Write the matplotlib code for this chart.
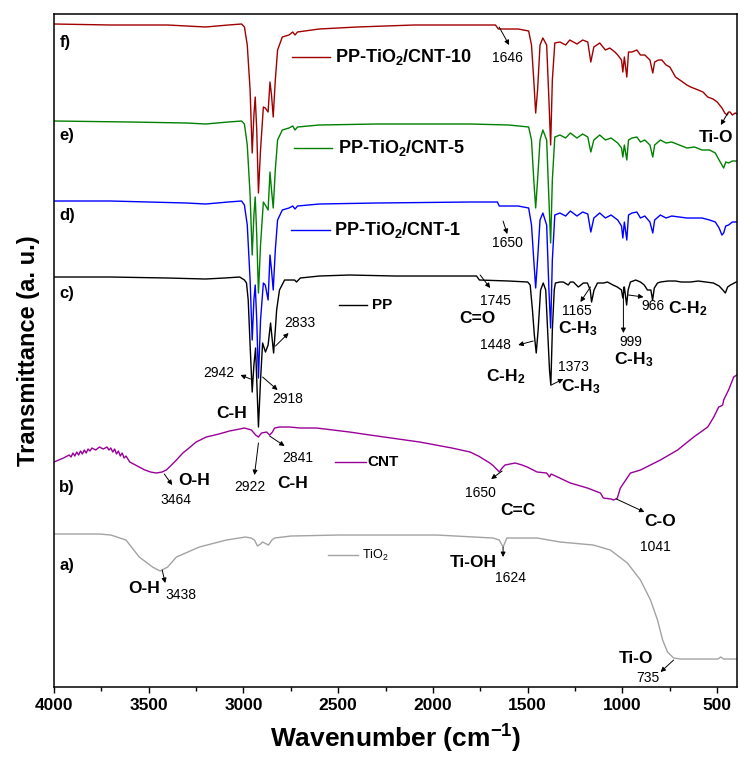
import matplotlib
matplotlib.use('Agg')
import matplotlib.pyplot as plt
from matplotlib.ticker import MultipleLocator

plt.rcParams['font.family'] = ['Liberation Sans', 'DejaVu Sans']
plt.rcParams['mathtext.fontset'] = 'custom'
plt.rcParams['mathtext.rm'] = 'Liberation Sans'
plt.rcParams['mathtext.bf'] = 'Liberation Sans:bold'
plt.rcParams['mathtext.default'] = 'regular'

# ---- spectra (wavenumber cm-1, transmittance a.u. with offsets) ----
wn_f = [4000, 3700, 3400, 3200, 3080, 3010, 2995, 2980, 2965, 2954, 2945, 2938, 2930, 2921, 2910,
        2895, 2885, 2870, 2860, 2852, 2843, 2832, 2820, 2795, 2760, 2740, 2728, 2715, 2600, 2400,
        2100, 1800, 1670, 1655, 1550, 1495, 1480, 1468, 1458, 1448, 1435, 1420, 1400, 1388, 1379,
        1370, 1357, 1330, 1300, 1278, 1240, 1210, 1183, 1167, 1151, 1120, 1090, 1067, 1040, 1025,
        1005, 998, 990, 977, 968, 950, 924, 905, 882, 855, 840, 830, 810, 792, 770, 750, 720, 697,
        660, 640, 600, 575, 550, 522, 500, 475, 460, 448, 440, 432, 420, 405, 395]
t_f = [663, 662, 662, 660, 662, 663, 660, 642, 597, 534, 572, 590, 557, 494, 537,
       580, 579, 575, 605, 592, 570, 607, 637, 650, 652, 655, 652, 655, 658, 660,
       662, 662, 662, 658, 658, 656, 642, 607, 574, 597, 642, 649, 642, 587, 542,
       607, 644, 645, 642, 647, 643, 647, 645, 625, 640, 644, 637, 639, 635, 632,
       627, 615, 630, 610, 635, 635, 637, 632, 632, 627, 614, 625, 627, 627, 622, 620, 610, 607,
       602, 600, 597, 595, 590, 588, 585, 579, 574, 572, 575, 575, 572, 574, 573]

wn_e = [4000, 3600, 3300, 3200, 3080, 3010, 2995, 2980, 2965, 2954, 2945, 2938, 2930, 2921, 2910,
        2895, 2885, 2870, 2860, 2852, 2843, 2832, 2820, 2795, 2760, 2740, 2728, 2715, 2600, 2300,
        1800, 1600, 1495, 1480, 1468, 1458, 1448, 1435, 1420, 1400, 1388, 1379, 1370, 1357, 1330,
        1300, 1275, 1240, 1210, 1183, 1167, 1151, 1120, 1090, 1060, 1025, 1005, 998, 990, 977, 968,
        950, 924, 905, 882, 855, 840, 830, 800, 770, 740, 700, 660, 620, 580, 540, 510, 490, 475,
        466, 455, 440, 420, 395]
t_e = [566, 565, 564, 563, 565, 566, 563, 542, 492, 432, 472, 490, 452, 394, 442,
       485, 482, 477, 515, 497, 479, 517, 547, 557, 559, 561, 557, 560, 562, 563,
       563, 562, 560, 547, 507, 479, 507, 547, 557, 547, 487, 444, 507, 550, 552,
       549, 554, 549, 553, 550, 535, 547, 552, 547, 549, 544, 539, 530, 542, 527, 547,
       549, 550, 545, 547, 542, 530, 542, 547, 544, 545, 542, 539, 540, 537, 537, 534, 527, 522,
       519, 525, 524, 526, 526]

wn_d = [4000, 3700, 3300, 3200, 3080, 3010, 2995, 2980, 2965, 2954, 2945, 2938, 2930, 2921, 2910,
        2895, 2885, 2870, 2860, 2852, 2843, 2832, 2820, 2795, 2760, 2740, 2728, 2715, 2600, 2300,
        1800, 1660, 1650, 1550, 1495, 1480, 1468, 1458, 1448, 1435, 1420, 1400, 1388, 1379, 1370,
        1357, 1330, 1300, 1275, 1240, 1210, 1183, 1167, 1151, 1120, 1090, 1060, 1025, 1005, 998,
        990, 977, 968, 950, 924, 905, 882, 855, 840, 830, 800, 770, 740, 700, 660, 620, 580, 540,
        510, 490, 475, 466, 455, 440, 420, 395]
t_d = [486, 486, 484, 483, 485, 486, 482, 462, 407, 347, 387, 402, 367, 309, 367,
       404, 402, 387, 432, 417, 397, 437, 467, 477, 479, 481, 478, 481, 483, 484,
       485, 485, 481, 481, 479, 462, 427, 399, 427, 467, 474, 462, 397, 359, 427,
       472, 474, 471, 476, 471, 475, 473, 455, 469, 474, 469, 472, 467, 461, 449,
       465, 447, 472, 474, 475, 469, 471, 465, 454, 467, 472, 469, 471, 470, 469, 469, 469, 467,
       465, 459, 452, 454, 461, 462, 465, 465]

wn_c = [4000, 3700, 3400, 3200, 3100, 3020, 2995, 2984, 2975, 2965, 2954, 2945, 2936, 2930, 2921,
        2910, 2899, 2884, 2870, 2857, 2848, 2841, 2832, 2825, 2810, 2783, 2757, 2730, 2720, 2700,
        2600, 2440, 2200, 1900, 1770, 1755, 1600, 1500, 1487, 1475, 1465, 1455, 1445, 1432, 1418,
        1405, 1395, 1385, 1378, 1370, 1360, 1354, 1330, 1312, 1286, 1275, 1259, 1233, 1206, 1185,
        1170, 1163, 1150, 1132, 1100, 1079, 1050, 1027, 1005, 998, 990, 978, 970, 958, 930, 905,
        885, 868, 850, 841, 832, 815, 799, 760, 720, 690, 640, 600, 560, 520, 490, 470, 457, 445,
        430, 400]
t_c = [410, 410, 409, 408, 409, 410, 407, 404, 387, 342, 295, 322, 339, 307, 260,
       307, 344, 335, 342, 364, 347, 334, 357, 377, 397, 407, 407, 407, 405, 409,
       411, 412, 411, 411, 411, 407, 406, 405, 402, 377, 352, 334, 357, 397, 404,
       397, 357, 317, 302, 357, 397, 404, 405, 405, 402, 405, 405, 400, 404, 404,
       397, 385, 397, 404, 404, 405, 402, 400, 397, 389, 400, 382, 397, 405, 407, 405,
       402, 397, 397, 387, 399, 404, 405, 406, 406, 405, 405, 406, 405, 404, 401, 397, 394, 400,
       402, 405]

wn_b = [4000, 3975, 3950, 3920, 3910, 3900, 3890, 3880, 3870, 3860, 3850, 3840, 3830, 3820, 3810,
        3800, 3780, 3760, 3740, 3720, 3710, 3700, 3690, 3680, 3670, 3660, 3650, 3640, 3630, 3620,
        3600, 3580, 3550, 3520, 3490, 3460, 3430, 3407, 3380, 3354, 3320, 3300, 3250, 3196, 3130,
        3074, 3020, 2995, 2958, 2936, 2921, 2905, 2878, 2862, 2847, 2836, 2810, 2757,
        2700, 2614, 2440, 2333, 2070, 1900, 1804, 1760, 1700, 1680, 1660, 1650, 1635, 1620, 1566,
        1530, 1503, 1450, 1400, 1392, 1385, 1376, 1275, 1185, 1116, 1101, 1060, 1048, 1035, 1027,
        1011, 958, 905, 800, 709, 624, 550, 518, 492, 480, 471, 466, 440, 413, 397]
t_b = [225, 227, 229, 232, 230, 234, 231, 235, 232, 236, 233, 237, 234, 238, 236,
       239, 237, 240, 238, 240, 237, 239, 235, 238, 233, 236, 231, 234, 229, 231,
       225, 223, 220, 217, 215, 214, 215, 217, 222, 227, 234, 237, 245, 250, 253,
       256, 258, 259, 257, 252, 250, 254, 255, 252, 255, 259, 260, 260,
       259, 259, 255, 252, 245, 239, 235, 231, 224, 221, 217, 215, 219, 222, 224,
       222, 220, 215, 214, 212, 210, 213, 204, 199, 194, 189, 188, 187, 188, 189,
       199, 214, 217, 227, 237, 250, 260, 270, 280, 281, 282, 287, 297, 310, 312]

wn_a = [4000, 3760, 3700, 3620, 3550, 3480, 3440, 3400, 3354, 3233, 3090, 2990, 2960, 2942, 2926,
        2910, 2899, 2868, 2850, 2836, 2750, 2500, 2280, 1979, 1683, 1650, 1630, 1610, 1450, 1328,
        1154, 1064, 974, 905, 852, 815, 788, 762, 730, 693, 600, 497, 481, 466, 397]
t_a = [153, 153, 152, 147, 130, 120, 116, 120, 130, 140, 147, 150, 149, 147, 141,
       143, 145, 142, 147, 149, 151, 152, 152, 152, 149, 147, 140, 149, 149, 145,
       142, 137, 124, 107, 87, 67, 47, 35, 29, 28, 28, 28, 30, 28, 28]

series = [
    (wn_a, t_a, '#a3a3a3', 'TiO$_2$'),
    (wn_b, t_b, '#990099', 'CNT'),
    (wn_c, t_c, '#000000', 'PP'),
    (wn_d, t_d, '#0000ff', 'PP-TiO$_\\mathbf{2}$/CNT-1'),
    (wn_e, t_e, '#008000', 'PP-TiO$_\\mathbf{2}$/CNT-5'),
    (wn_f, t_f, '#a00000', 'PP-TiO$_\\mathbf{2}$/CNT-10'),
]

# in-plot legend keys: (x0, x1, y, text x, fontsize, weight)
legend_pos = [
    (2556, 2397, 132, 2376, 9, 'normal'),
    (2519, 2354, 225, 2344, 11, 'bold'),
    (2497, 2349, 382, 2323, 11, 'bold'),
    (2751, 2545, 457, 2524, 13, 'bold'),
    (2735, 2534, 539, 2503, 13, 'bold'),
    (2746, 2545, 630, 2519, 13, 'bold'),
]

tags = [('a)', 122), ('b)', 200), ('c)', 394), ('d)', 472), ('e)', 552), ('f)', 645)]

numbers = [('1646', 1608, 629), ('1650', 1608, 444), ('1745', 1672, 386), ('1448', 1672, 342),
           ('1373', 1259, 320), ('1165', 1243, 376), ('999', 958, 345), ('966', 841, 381),
           ('2833', 2704, 364), ('2942', 3132, 314), ('2918', 2767, 288), ('3464', 3354, 187),
           ('2922', 2968, 200), ('2841', 2714, 229), ('1650', 1751, 194), ('1041', 825, 140),
           ('3438', 3328, 92), ('1624', 1593, 109), ('735', 868, 9)]

groups = [('Ti-O', 508, 550), ('C=O', 1767, 369), ('C-H$_\\mathbf{2}$', 1619, 310),
          ('C-H$_\\mathbf{3}$', 1222, 300), ('C-H$_\\mathbf{3}$', 1238, 358),
          ('C-H$_\\mathbf{3}$', 942, 327), ('C-H$_\\mathbf{2}$', 656, 378),
          ('C-H', 3063, 274), ('O-H', 3259, 207), ('C-H', 2741, 204), ('C=C', 1550, 177),
          ('C-O', 799, 166), ('O-H', 3524, 99), ('Ti-OH', 1788, 125), ('Ti-O', 931, 29)]

# arrows: tail (near band) -> head (near label)
arrows = [(1651, 660, 1598, 642), (444, 574, 481, 562), (1630, 466, 1608, 453),
          (1751, 412, 1698, 399), (1471, 346, 1550, 342), (1376, 302, 1312, 308),
          (1169, 400, 1222, 385), (995, 400, 995, 354), (968, 392, 889, 390),
          (2831, 341, 2762, 354), (2963, 308, 3016, 312), (2899, 310, 2820, 297),
          (3418, 213, 3376, 202), (2921, 244, 2942, 212), (2862, 251, 2783, 241),
          (1635, 216, 1693, 208), (1032, 188, 884, 175), (3429, 117, 3413, 104),
          (1630, 140, 1630, 130), (730, 27, 799, 15)]

fig = plt.figure(figsize=(7.56, 7.61), dpi=100)
ax = fig.add_axes([0.0714, 0.0972, 0.9036, 0.8844])

for (wn, t, col, lab), (x0, x1, yl, xt, fs, fw) in zip(series, legend_pos):
    ax.plot(wn, t, color=col, lw=1.0)
    ax.plot([x0, x1], [yl, yl], color=col, lw=1.0)
    ax.text(xt, yl, lab, fontsize=fs, fontweight=fw, va='center', ha='left')

for lab, y in tags:
    ax.text(3972, y, lab, fontsize=12, fontweight='bold', va='center', ha='left')

for lab, x, y in numbers:
    ax.text(x, y, lab, fontsize=10, va='center', ha='center')

for lab, x, y in groups:
    ax.text(x, y, lab, fontsize=12.5, fontweight='bold', va='center', ha='center')

for x0, y0, x1, y1 in arrows:
    ax.annotate('', xy=(x1, y1), xytext=(x0, y0),
                arrowprops=dict(arrowstyle='-|>', color='black', lw=0.7,
                                mutation_scale=7, shrinkA=0, shrinkB=0))

ax.set_xlim(4000, 395)
ax.set_ylim(0, 673)
ax.xaxis.set_major_locator(MultipleLocator(500))
ax.xaxis.set_minor_locator(MultipleLocator(250))
ax.tick_params(axis='x', which='major', direction='out', length=4, width=1, pad=4,
               labelsize=12.5)
ax.tick_params(axis='x', which='minor', direction='out', length=3, width=1)
for lb in ax.get_xticklabels():
    lb.set_fontweight('bold')
ax.set_yticks([])
for sp in ax.spines.values():
    sp.set_linewidth(1.1)

ax.set_xlabel('Wavenumber (cm$^\\mathbf{-1}$)', fontsize=19, fontweight='bold', labelpad=7)
ax.set_ylabel('Transmittance (a. u.)', fontsize=17, fontweight='bold', labelpad=10)

fig.savefig('out.png', dpi=100)
